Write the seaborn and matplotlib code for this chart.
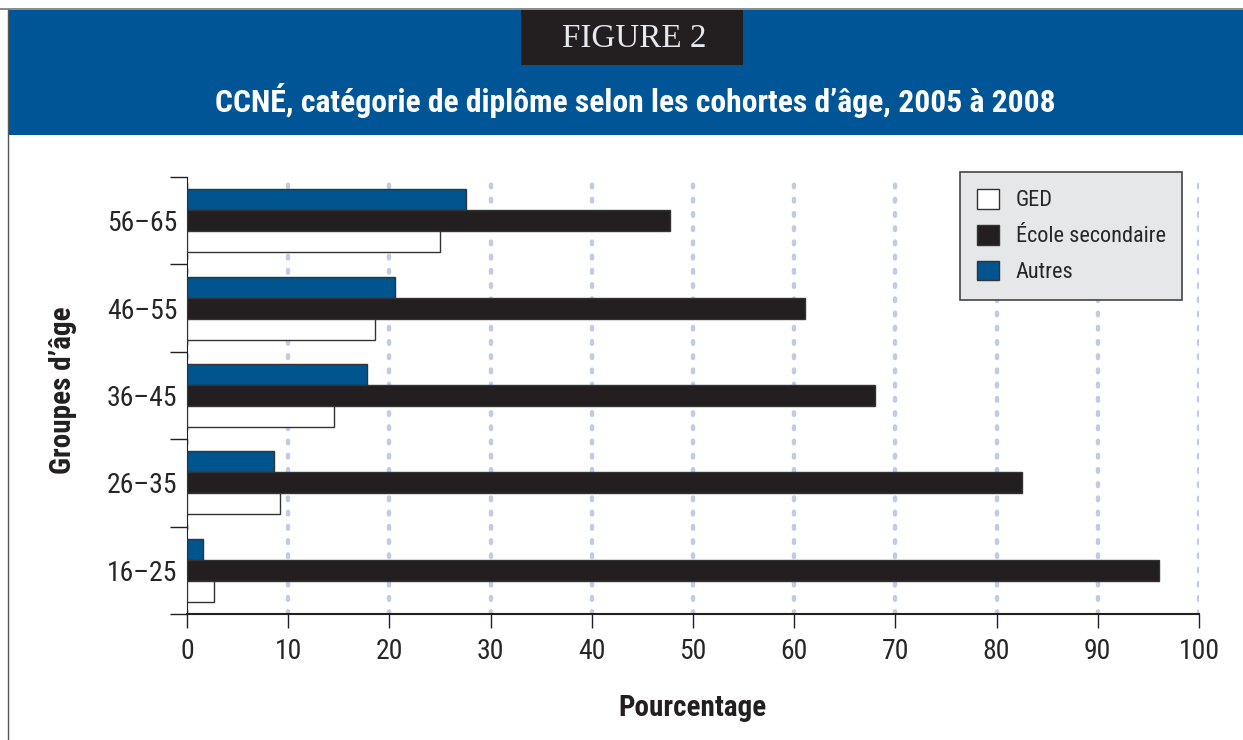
import matplotlib
matplotlib.use('Agg')
import matplotlib.pyplot as plt
import seaborn as sns
import pandas as pd
from matplotlib.patches import Rectangle, Patch
from matplotlib.lines import Line2D
from matplotlib import font_manager

# Data (top to bottom order)
age_groups = ['56–65', '46–55', '36–45', '26–35', '16–25']
ged = [25.0, 18.6, 14.5, 9.2, 2.7]
secondaire = [47.7, 61.1, 68.0, 82.5, 96.0]
autres = [27.6, 20.6, 17.8, 8.6, 1.6]
categories = ['GED', 'École secondaire', 'Autres']
x_ticks = list(range(0, 101, 10))

colors = {'GED': '#ffffff', 'École secondaire': '#231f20', 'Autres': '#00558f'}

df = pd.DataFrame({'Groupe': age_groups, 'GED': ged,
                   'École secondaire': secondaire, 'Autres': autres})
df = df.melt(id_vars='Groupe', var_name='Catégorie', value_name='Pourcentage')

sns.set_style('white')

# pick a narrow sans font if one is installed
installed = {f.name for f in font_manager.fontManager.ttflist}
narrow = 'DejaVu Sans'
for name in ['Liberation Sans Narrow', 'Roboto Condensed', 'Open Sans Condensed',
             'Noto Sans Condensed', 'DejaVu Sans Condensed']:
    if name in installed:
        narrow = name
        break
plt.rcParams['font.family'] = [narrow, 'DejaVu Sans']

W, H = 1243, 740
fig = plt.figure(figsize=(W / 100, H / 100), dpi=100)
fig.patch.set_facecolor('white')

# Header band
fig.patches.append(Rectangle((8 / W, 1 - 135 / H), 1 - 8 / W, 125 / H,
                             transform=fig.transFigure, facecolor='#005596',
                             edgecolor='none', zorder=0))
fig.patches.append(Rectangle((521 / W, 1 - 65 / H), 222 / W, 55 / H,
                             transform=fig.transFigure, facecolor='#231f20',
                             edgecolor='none', zorder=1))
fig.lines.append(Line2D([8 / W, 8 / W], [0, 1 - 9 / H], transform=fig.transFigure,
                        color='#555555', linewidth=1))
fig.lines.append(Line2D([0, 1], [1 - 9 / H, 1 - 9 / H], transform=fig.transFigure,
                        color='#777777', linewidth=1.2))
fig_label = fig.text(634 / W, 1 - 39 / H, 'FIGURE 2', ha='center', va='center',
                     color='#e8e8ee', fontsize=25, family=['Liberation Serif', 'DejaVu Serif'])
title = fig.text(635 / W, 1 - 100 / H,
                 'CCNÉ, catégorie de diplôme selon les cohortes d’âge, 2005 à 2008',
                 ha='center', va='center', color='white', fontsize=24, fontweight='bold')

ax = fig.add_axes([187 / W, 1 - 614 / H, 1012 / W, 437 / H])
sns.barplot(data=df, y='Groupe', x='Pourcentage', hue='Catégorie', order=age_groups,
            hue_order=['Autres', 'École secondaire', 'GED'], palette=colors,
            orient='h', width=0.72, saturation=1, errorbar=None, legend=False,
            edgecolor='#333333', linewidth=1, ax=ax, zorder=3)

ax.set_xlim(0, 100)
ax.set_ylim(4.5, -0.5)
ax.set_xticks(x_ticks)
ax.tick_params(axis='x', labelsize=20, length=10, width=1, color='#231f20',
               direction='out', pad=7, bottom=True)
ax.set_yticks(range(len(age_groups)))
ax.set_yticklabels(age_groups)
ax.tick_params(axis='y', which='major', labelsize=20, length=0, pad=7)
ax.set_yticks([i - 0.5 for i in range(len(age_groups) + 1)], minor=True)
ax.tick_params(axis='y', which='minor', length=12, width=1, color='#231f20', left=True)

ax.grid(axis='x', color='#c2cbe5', linestyle=(0, (0.6, 2.6)), linewidth=3.2,
        dash_capstyle='round', zorder=0)
ax.set_axisbelow(True)

for side in ['top', 'right']:
    ax.spines[side].set_visible(False)
ax.spines['left'].set_color('#231f20')
ax.spines['bottom'].set_color('#231f20')
ax.spines['bottom'].set_linewidth(1.5)

# axis titles placed in figure pixels like the reference
ax.set_xlabel('')
ax.set_ylabel('')
xlab = fig.text(693 / W, 1 - 708 / H, 'Pourcentage', ha='center', va='center',
                fontsize=21, fontweight='bold', color='#231f20')
ylab = fig.text(63 / W, 1 - 390 / H, 'Groupes d’âge', ha='center', va='center',
                rotation=90, fontsize=21, fontweight='bold', color='#231f20')

renderer = fig.canvas.get_renderer()

# legend font size so that "École secondaire" is about 150 px wide
probe = fig.text(0, 0, 'École secondaire', fontsize=18)
leg_size = 18 * 150 / probe.get_window_extent(renderer).width
probe.remove()

handles = [Patch(facecolor=colors[c], edgecolor='#333333', linewidth=1) for c in categories]
leg = fig.legend(handles, categories, loc='upper left',
                 bbox_to_anchor=(960 / W, 1 - 172 / H), bbox_transform=fig.transFigure,
                 fontsize=leg_size, frameon=True, fancybox=False, framealpha=1,
                 facecolor='#e6e7e8', edgecolor='#444444', handlelength=1.0,
                 handleheight=1.0, labelspacing=0.6, borderpad=0.75,
                 handletextpad=0.75, borderaxespad=0)
leg.get_frame().set_linewidth(1.2)

# shrink texts to the widths they have in the reference
def fit(t, target, vertical=False):
    bb = t.get_window_extent(renderer)
    size = bb.height if vertical else bb.width
    if size > target:
        t.set_fontsize(t.get_fontsize() * target / size)

fit(title, 845)
fit(xlab, 152)
fit(ylab, 182, vertical=True)
fit(fig_label, 145)

fig.savefig('out.png', dpi=100)
